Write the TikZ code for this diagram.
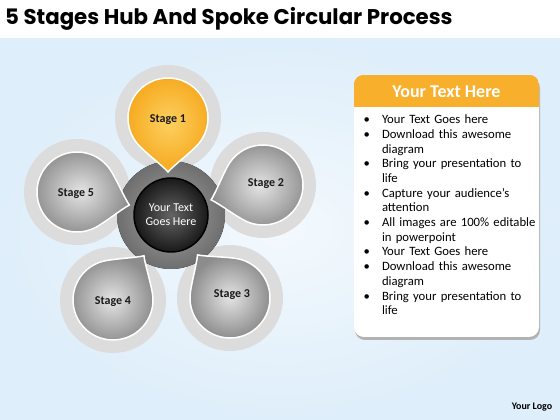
\documentclass[tikz,border=0pt]{standalone}
\usepackage{fontspec}
\setmainfont{Carlito}
\newfontfamily\titlefont{Poppins}
\usetikzlibrary{positioning}
\pgfdeclarelayer{background layer}
\pgfsetlayers{background layer,main}

\definecolor{SkyBlue}{RGB}{222,238,250}
\definecolor{HaloGray}{RGB}{220,220,220}
\definecolor{DropLight}{RGB}{228,228,228}
\definecolor{DropDark}{RGB}{140,140,140}
\definecolor{GoldLight}{RGB}{253,208,96}
\definecolor{GoldDark}{RGB}{246,168,28}
\definecolor{RingLight}{RGB}{165,165,165}
\definecolor{RingDark}{RGB}{110,110,110}
\definecolor{CoreLight}{RGB}{100,100,100}
\definecolor{CoreDark}{RGB}{25,25,25}
\definecolor{HeaderGold}{RGB}{248,176,44}

\tikzstyle{Halo}      = [fill=HaloGray]
\tikzstyle{BasicDrop} = [draw=white, line width=1.5pt]
\tikzstyle{GrayDrop}  = [BasicDrop, inner color=DropLight, outer color=DropDark]
\tikzstyle{GoldDrop}  = [BasicDrop, inner color=GoldLight, outer color=GoldDark]
\tikzstyle{StageText} = [font=\bfseries\fontsize{12}{14}\selectfont, text=black!90]
\tikzstyle{HubRing}   = [inner color=RingLight, outer color=RingDark]
\tikzstyle{HubCore}   = [circle, draw=black, line width=1.5pt, inner color=CoreLight, outer color=CoreDark,
                         minimum size=74pt, text=white, align=center, font=\fontsize{12}{14}\selectfont]
\tikzstyle{PanelBox}  = [rectangle, fill=white, rounded corners=10pt, minimum width=185pt, minimum height=262pt]

% tear drop, tip pointing along +x
\newcommand{\DropPath}{(54,0) .. controls (48,5) and (33.4,24.2) .. (50:40)
  arc[start angle=50, end angle=310, radius=40]
  .. controls (33.4,-24.2) and (48,-5) .. (54,0) -- cycle}

\begin{document}
\begin{tikzpicture}[x=1pt, y=1pt]

\useasboundingbox (0,0) rectangle (560,420);

\begin{pgfonlayer}{background layer}
\fill[white] (0,0) rectangle (560,420);
\shade[inner color=SkyBlue!35!white, outer color=SkyBlue] (0,0) rectangle (560,381);
\end{pgfonlayer}

%% ------------------------------------------------------------------ [ Title ]
\node (title) [anchor=west, inner sep=0pt, font=\titlefont\bfseries\fontsize{21.3}{25}\selectfont]
      at (5,401) {5 Stages Hub And Spoke Circular Process};

%% -------------------------------------------------------------------- [ Hub ]
\fill[Halo] (168,302) circle (53);
\fill[Halo] (263,235) circle (53);
\fill[Halo] (230,122) circle (53);
\fill[Halo] (113,120) circle (53);
\fill[Halo] (77,228)  circle (53);

\fill[HubRing] (171,205) circle (54);

%% ----------------------------------------------------------------- [ Stages ]
\path[GoldDrop, shift={(168,302)}, rotate=-90] \DropPath;
\path[GrayDrop, shift={(263,235)}, rotate=196] \DropPath;
\path[GrayDrop, shift={(230,122)}, rotate=127] \DropPath;
\path[GrayDrop, shift={(113,120)}, rotate=55]  \DropPath;
\path[GrayDrop, shift={(77,228)},  rotate=-14] \DropPath;

\node (stage1) [StageText] at (168,300) {Stage 1};
\node (stage2) [StageText] at (266,236) {Stage 2};
\node (stage3) [StageText] at (232,125) {Stage 3};
\node (stage4) [StageText] at (113,118) {Stage 4};
\node (stage5) [StageText] at (76,226)  {Stage 5};

\node (hub) [HubCore] at (171,205) {Your Text\\Goes Here};

%% ------------------------------------------------------------------ [ Panel ]
\fill[black!30, rounded corners=10pt] (355,80) rectangle (540,342);
\node (panel) [PanelBox] at (446.5,214) {};
\begin{scope}
  \clip[rounded corners=10pt] (panel.south west) rectangle (panel.north east);
  \fill[HeaderGold] (panel.north west) rectangle ([yshift=-32pt]panel.north east);
\end{scope}

\node (header) [text=white, font=\bfseries\fontsize{18}{21}\selectfont,
                below = 7.5pt of panel.north] {Your Text Here};

\node (items) [inner sep=0pt, text width=178pt,
               font=\fontsize{12.7}{14.7}\selectfont,
               below right = 34pt and 8pt of panel.north west] {%
  \begin{list}{\textbullet}{\setlength{\leftmargin}{20pt}\setlength{\labelwidth}{8pt}%
      \setlength{\labelsep}{12pt}\setlength{\itemsep}{0pt}\setlength{\parsep}{0pt}%
      \setlength{\topsep}{0pt}\setlength{\partopsep}{0pt}}
    \item Your Text Goes here
    \item Download this awesome\newline diagram
    \item Bring your presentation to\newline life
    \item Capture your audience’s\newline attention
    \item All images are 100\% editable\newline in powerpoint
    \item Your Text Goes here
    \item Download this awesome\newline diagram
    \item Bring your presentation to\newline life
  \end{list}};

%% ------------------------------------------------------------------- [ Logo ]
\node (logo) [font=\bfseries\fontsize{10}{12}\selectfont] at (532,13) {Your Logo};

\end{tikzpicture}
\end{document}
